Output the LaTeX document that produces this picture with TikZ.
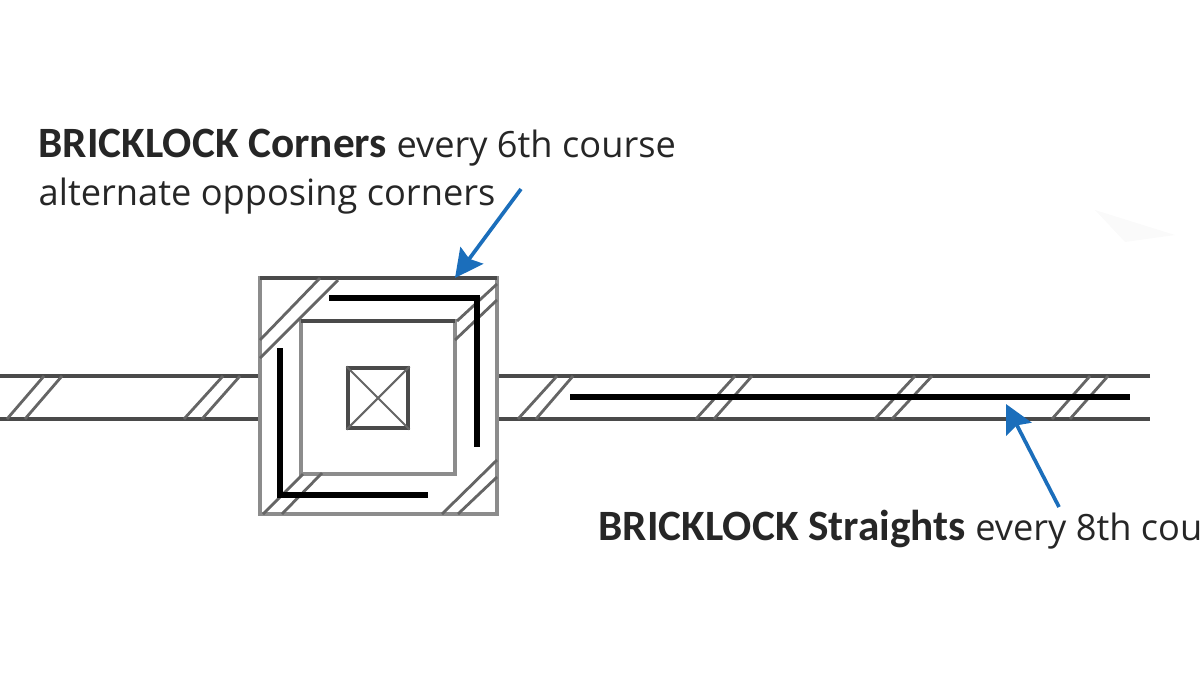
\documentclass[tikz,border=0pt]{standalone}
\usepackage{fontspec}
\setmainfont{Open Sans}
\newfontfamily\boldface[Scale=1.0]{Carlito Bold}
\usetikzlibrary{arrows.meta}
\definecolor{leaderblue}{HTML}{1B6EBB}
\definecolor{wallgrey}{HTML}{4A4A4A}
\definecolor{sidegrey}{HTML}{8C8C8C}
\newcommand{\brick}[1]{{\fontsize{12.3}{12}\boldface #1}}
\tikzset{
  wall/.style={draw=wallgrey, line width=0.9pt},
  hatch/.style={draw=wallgrey!85, line width=0.8pt},
  tie/.style={draw=black, line width=1.5pt},
  leader/.style={draw=leaderblue, line width=1.05pt, -{Stealth[length=8pt,width=8pt,inset=1.2pt]}},
  label/.style={anchor=base west, inner sep=0pt, text=black!85, font=\fontsize{10.3}{12}\selectfont}
}

\begin{document}
\begin{tikzpicture}[x=0.01cm, y=-0.01cm]
    \useasboundingbox (0,0) rectangle (1200,675);

    % Faint smudge
    \fill[black!2] (1095,210) -- (1175,235) -- (1125,242) -- cycle;

    % Draw wall lines
    \draw[wall] (0,376) -- (262,376) (0,419) -- (262,419);
    \draw[wall] (1150,376) -- (497,376) -- (497,419) -- (1150,419);

    % Hatches across the wall
    \foreach \t/\b in {44/7, 62/25, 223/184, 240/202, 557/518, 573/536, 735/696, 752/714, 915/875, 932/892, 1090/1052, 1108/1070} {
      \draw[hatch] (\t,376) -- (\b,419);
    }

    % Draw column squares
    \draw[draw=sidegrey, line width=0.9pt] (260,278) rectangle (497,514);
    \draw[wall] (260,278) -- (497,278);
    \draw[draw=sidegrey, line width=0.9pt] (301,321) rectangle (455,474);
    \draw[wall] (301,321) -- (455,321);
    \node[draw=wallgrey, line width=0.9pt, minimum size=0.6cm, inner sep=0pt] (core) at (378,398) {};
    \draw[hatch, line width=0.6pt] (core.north west) -- (core.south east) (core.north east) -- (core.south west);

    % Corner hatches
    \foreach \a/\b/\c/\d in {320/278/260/340, 338/280/260/358, 497/284/457/321, 497/300/455/340, 322/473/282/514, 303/474/263/514, 497/460/442/514, 497/477/458/514} {
      \draw[hatch] (\a,\b) -- (\c,\d);
    }

    % Draw ties
    \draw[tie] (329,298) -- (477,298) -- (477,447);
    \draw[tie] (280,348) -- (280,495) -- (428,495);
    \draw[tie] (570,397) -- (1130,397);

    % Labels
    \node[label] (corners) at (38,157) {\brick{BRICKLOCK Corners} every 6th course};
    \node[label] (opposing) at (38,205) {alternate opposing corners};
    \node[label] (straights) at (598,540) {\brick{BRICKLOCK Straights} every 8th cour};

    % Leaders
    \coordinate (cornerstip) at (455,278);
    \coordinate (cornerstail) at (521,189);
    \coordinate (straightstip) at (1006,404);
    \coordinate (straightstail) at (1059,507);
    \draw[leader] (cornerstail) -- (cornerstip);
    \draw[leader] (straightstail) -- (straightstip);
\end{tikzpicture}
\end{document}
